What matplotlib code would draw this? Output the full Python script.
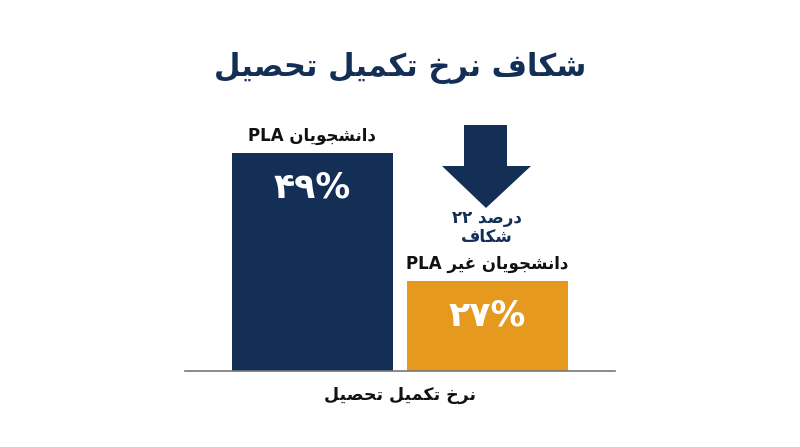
import matplotlib
matplotlib.use("Agg")
import matplotlib.pyplot as plt
from matplotlib.patches import Polygon

# ---------------------------------------------------------------------------
# Data
# ---------------------------------------------------------------------------
groups = ["دانشجویان PLA", "دانشجویان غیر PLA"]
rates = [49, 27]
rate_labels = ["۴۹%", "۲۷%"]
gap_label = ["۲۲ درصد", "شکاف"]
title = "شکاف نرخ تکمیل تحصیل"
xlabel = "نرخ تکمیل تحصیل"

navy = "#142f55"
orange = "#e59a1f"

# ---------------------------------------------------------------------------
# Small Persian shaper (matplotlib 3.10 has no complex text layout)
# forms: isolated, final, initial, medial
# ---------------------------------------------------------------------------
FORMS = {
    "ا": ("\uFE8D", "\uFE8E", None, None),
    "د": ("\uFEA9", "\uFEAA", None, None),
    "ر": ("\uFEAD", "\uFEAE", None, None),
    "و": ("\uFEED", "\uFEEE", None, None),
    "ب": ("\uFE8F", "\uFE90", "\uFE91", "\uFE92"),
    "ت": ("\uFE95", "\uFE96", "\uFE97", "\uFE98"),
    "ج": ("\uFE9D", "\uFE9E", "\uFE9F", "\uFEA0"),
    "ح": ("\uFEA1", "\uFEA2", "\uFEA3", "\uFEA4"),
    "خ": ("\uFEA5", "\uFEA6", "\uFEA7", "\uFEA8"),
    "ش": ("\uFEB5", "\uFEB6", "\uFEB7", "\uFEB8"),
    "ص": ("\uFEB9", "\uFEBA", "\uFEBB", "\uFEBC"),
    "غ": ("\uFECD", "\uFECE", "\uFECF", "\uFED0"),
    "ف": ("\uFED1", "\uFED2", "\uFED3", "\uFED4"),
    "ل": ("\uFEDD", "\uFEDE", "\uFEDF", "\uFEE0"),
    "م": ("\uFEE1", "\uFEE2", "\uFEE3", "\uFEE4"),
    "ن": ("\uFEE5", "\uFEE6", "\uFEE7", "\uFEE8"),
    "ک": ("\uFB8E", "\uFB8F", "\uFB90", "\uFB91"),
    "ی": ("\uFBFC", "\uFBFD", "\uFEF3", "\uFEF4"),
}


def is_ar(c):
    return c in FORMS


def joins_next(c):
    return c in FORMS and FORMS[c][2] is not None


def shape_word(w):
    out = []
    for i, c in enumerate(w):
        if c not in FORMS:
            out.append(c)
            continue
        prev = i > 0 and joins_next(w[i - 1])
        nxt = joins_next(c) and i + 1 < len(w) and is_ar(w[i + 1])
        iso, fin, ini, med = FORMS[c]
        if prev and nxt:
            out.append(med)
        elif prev:
            out.append(fin)
        elif nxt:
            out.append(ini)
        else:
            out.append(iso)
    return "".join(out)


def fa(text, rtl=True):
    # split into words, shape arabic words, then order visually
    words = text.split(" ")
    vis = []
    for w in words:
        if any(is_ar(c) for c in w):
            vis.append(shape_word(w)[::-1])
        else:
            vis.append(w)
    if rtl:
        vis = vis[::-1]
    return " ".join(vis)


# ---------------------------------------------------------------------------
# Plot
# ---------------------------------------------------------------------------
W, H = 800, 447
fig = plt.figure(figsize=(8, 4.47), dpi=100)
fig.patch.set_facecolor("white")

ax = fig.add_axes([185 / W, 1 - 371 / H, 430 / W, 218 / H])
x = [0, 1]
ax.bar(x, rates, width=0.917, color=[navy, orange], bottom=0)
ax.set_xlim(-0.7236, 1.725)
ax.set_ylim(11.4, 49)
for s in ["top", "right", "left"]:
    ax.spines[s].set_visible(False)
ax.spines["bottom"].set_color("#777777")
ax.spines["bottom"].set_linewidth(1.2)
ax.set_xticks([])
ax.set_yticks([])

font = "DejaVu Sans"

# group labels above bars, values inside
for xi, r, g, lab in zip(x, rates, groups, rate_labels):
    ax.text(xi, r + 1.3, fa(g), ha="center", va="bottom", fontsize=12,
            fontweight="bold", family=font, color="#111111", clip_on=False)
    ax.text(xi, r - 6.0, lab, ha="center", va="center", fontsize=25,
            fontweight="bold", family=font, color="white")

# title and x label
fig.text(0.5, 1 - 68 / H, fa(title), ha="center", va="center", fontsize=22,
         fontweight="bold", family=font, color=navy)
fig.text(0.5, 1 - 395 / H, fa(xlabel), ha="center", va="center", fontsize=12.5,
         fontweight="bold", family=font, color="#111111")

# gap arrow
arrow = [(464, 125), (507, 125), (507, 166), (531, 166), (486, 208),
         (442, 166), (464, 166)]
fig.patches.append(Polygon([(px / W, 1 - py / H) for px, py in arrow],
                           closed=True, transform=fig.transFigure,
                           facecolor=navy, edgecolor="none"))
fig.text(487 / W, 1 - 218 / H, fa(gap_label[0], rtl=False), ha="center",
         va="center", fontsize=12, fontweight="bold", family=font, color=navy)
fig.text(487 / W, 1 - 237 / H, fa(gap_label[1]), ha="center",
         va="center", fontsize=12, fontweight="bold", family=font, color=navy)

fig.savefig("out.png", dpi=100, facecolor="white")
